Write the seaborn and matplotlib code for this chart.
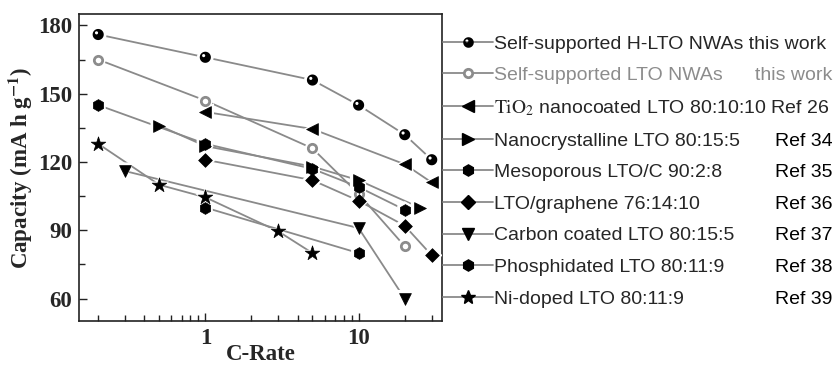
import numpy as np
import pandas as pd
import matplotlib
matplotlib.use("Agg")
import matplotlib.pyplot as plt
import seaborn as sns
from matplotlib.path import Path
from matplotlib.lines import Line2D
from matplotlib.ticker import MultipleLocator, LogLocator, NullFormatter, FixedLocator, FixedFormatter

# ---------------- data ----------------
series_names = [
    "Self-supported H-LTO NWAs this work",
    "Self-supported LTO NWAs",
    r"$\mathrm{TiO_2}$ nanocoated LTO 80:10:10 Ref 26",
    "Nanocrystalline LTO 80:15:5",
    "Mesoporous LTO/C 90:2:8",
    "LTO/graphene 76:14:10",
    "Carbon coated LTO 80:15:5",
    "Phosphidated LTO 80:11:9",
    "Ni-doped LTO 80:11:9",
]
right_notes = ["", "this work", "", "Ref 34", "Ref 35", "Ref 36", "Ref 37", "Ref 38", "Ref 39"]

x_hlto = [0.2, 1, 5, 10, 20, 30]
y_hlto = [176, 166, 156, 145, 132, 121]
x_lto = [0.2, 1, 5, 10, 20]
y_lto = [165, 147, 126, 106, 83]
x_tio2 = [1, 5, 20, 30]
y_tio2 = [142, 134.5, 119, 111]
x_nano = [0.5, 1, 5, 10, 25]
y_nano = [136, 127, 118, 112, 100]
x_meso = [0.2, 1, 5, 10, 20]
y_meso = [145, 128, 117, 109, 99]
x_graph = [1, 5, 10, 20, 30]
y_graph = [121, 112, 103, 92, 79]
x_carb = [0.3, 10, 20]
y_carb = [116, 91, 60]
x_phos = [1, 10]
y_phos = [100, 80]
x_ni = [0.2, 0.5, 1, 3, 5]
y_ni = [128, 110, 104.5, 89.5, 80]

xs = [x_hlto, x_lto, x_tio2, x_nano, x_meso, x_graph, x_carb, x_phos, x_ni]
ys = [y_hlto, y_lto, y_tio2, y_nano, y_meso, y_graph, y_carb, y_phos, y_ni]

rows = []
for name, xx, yy in zip(series_names, xs, ys):
    for a, b in zip(xx, yy):
        rows.append({"series": name, "rate": a, "cap": b})
df = pd.DataFrame(rows)

# ---------------- style ----------------
sns.set_style("ticks")
plt.rcParams["mathtext.fontset"] = "stix"
plt.rcParams["font.family"] = ["Liberation Serif", "DejaVu Serif"]

line_gray = "#8a8a8a"
open_gray = "#8c8c8c"
sans = ["Liberation Sans", "DejaVu Sans"]

# sphere-like marker (filled circle with a small highlight hole)
th = np.linspace(0, 2 * np.pi, 60)
outer = np.column_stack([np.cos(th), np.sin(th)])
inner = np.column_stack([-0.3 + 0.28 * np.cos(-th), 0.3 + 0.28 * np.sin(-th)])
verts = np.vstack([outer, inner])
codes = ([Path.MOVETO] + [Path.LINETO] * (len(outer) - 2) + [Path.CLOSEPOLY]
         + [Path.MOVETO] + [Path.LINETO] * (len(inner) - 2) + [Path.CLOSEPOLY])
sphere = Path(verts, codes)

markers = {
    series_names[0]: sphere,
    series_names[1]: "o",
    series_names[2]: "<",
    series_names[3]: ">",
    series_names[4]: "h",
    series_names[5]: "D",
    series_names[6]: "v",
    series_names[7]: "h",
    series_names[8]: "*",
}
msize = {
    series_names[0]: 8, series_names[1]: 7, series_names[2]: 8.5,
    series_names[3]: 8.5, series_names[4]: 8.5, series_names[5]: 7,
    series_names[6]: 8.5, series_names[7]: 8.5, series_names[8]: 11,
}

fig = plt.figure(figsize=(8.39, 3.65), dpi=100)
ax = fig.add_axes([0.0942, 0.1195, 0.4326, 0.8421])

# lines
sns.lineplot(data=df, x="rate", y="cap", hue="series", palette=[line_gray] * len(series_names),
             hue_order=series_names, errorbar=None, legend=False, ax=ax, lw=1.3)

# markers (white halo then marker)
for name in series_names:
    sub = df[df["series"] == name]
    m = markers[name]
    s = msize[name]
    sns.scatterplot(data=sub, x="rate", y="cap", marker="o" if name == series_names[0] else m,
                    s=(s + 4) ** 2, color="white", edgecolor="none", ax=ax, legend=False, zorder=3)
    if name == series_names[1]:
        sns.scatterplot(data=sub, x="rate", y="cap", marker="o", s=(s - 1) ** 2, facecolor="white",
                        edgecolor=open_gray, linewidth=2.0, ax=ax, legend=False, zorder=4)
    elif name == series_names[0]:
        sns.scatterplot(data=sub, x="rate", y="cap", marker=m, s=s ** 2, color="black",
                        edgecolor="none", linewidth=0, ax=ax, legend=False, zorder=4)
    else:
        sns.scatterplot(data=sub, x="rate", y="cap", marker=m, s=s ** 2, color="black",
                        edgecolor="black", linewidth=0.5, ax=ax, legend=False, zorder=4)

ax.set_xscale("log")
ax.set_xlim(0.15, 35)
ax.set_ylim(50, 185)
ax.xaxis.set_major_locator(FixedLocator([1, 10]))
ax.xaxis.set_major_formatter(FixedFormatter(["1", "10"]))
ax.xaxis.set_minor_locator(LogLocator(base=10, subs=np.arange(2, 10)))
ax.xaxis.set_minor_formatter(NullFormatter())
ax.yaxis.set_major_locator(MultipleLocator(30))
ax.yaxis.set_minor_locator(MultipleLocator(15))

for sp in ax.spines.values():
    sp.set_visible(True)
    sp.set_linewidth(1.2)
    sp.set_color("#222222")
ax.tick_params(which="both", direction="in", top=False, right=False, width=1.0, color="#222222")
ax.tick_params(which="major", length=6, labelsize=16.5, pad=5)
ax.tick_params(which="minor", length=4)
for lab in ax.get_xticklabels() + ax.get_yticklabels():
    lab.set_fontweight("bold")

ax.set_xlabel("C-Rate", fontsize=16.5, fontweight="bold", labelpad=-3.5)
ax.set_ylabel(r"Capacity (mA h g$^{\mathbf{-1}}$)", fontsize=16.5, fontweight="bold", labelpad=2)

# legend
handles = []
for name in series_names:
    if name == series_names[1]:
        h = Line2D([], [], color=line_gray, lw=1.3, marker="o", ms=6, mfc="white",
                   mec=open_gray, mew=2.0)
    elif name == series_names[0]:
        h = Line2D([], [], color=line_gray, lw=1.3, marker=markers[name], ms=msize[name] * 0.95,
                   mfc="black", mec="none", mew=0)
    else:
        h = Line2D([], [], color=line_gray, lw=1.3, marker=markers[name], ms=msize[name] * 0.95,
                   mfc="black", mec="black")
    handles.append(h)

leg = fig.legend(handles, series_names, loc="upper left", bbox_to_anchor=(0.5285, 0.904),
                 frameon=False, borderpad=0, borderaxespad=0, handlelength=2.55,
                 handletextpad=0.05, labelspacing=0.72,
                 prop={"family": sans, "size": 14})
texts = leg.get_texts()
texts[1].set_color(open_gray)

fig.canvas.draw()
H = fig.bbox.height
for t, note in zip(texts, right_notes):
    if note:
        bb = t.get_window_extent()
        col = open_gray if note == "this work" else "black"
        fig.text(0.992, bb.y0 / H, note, ha="right", va="bottom", fontsize=14,
                 family=sans, color=col)

fig.savefig("out.png", dpi=100)
